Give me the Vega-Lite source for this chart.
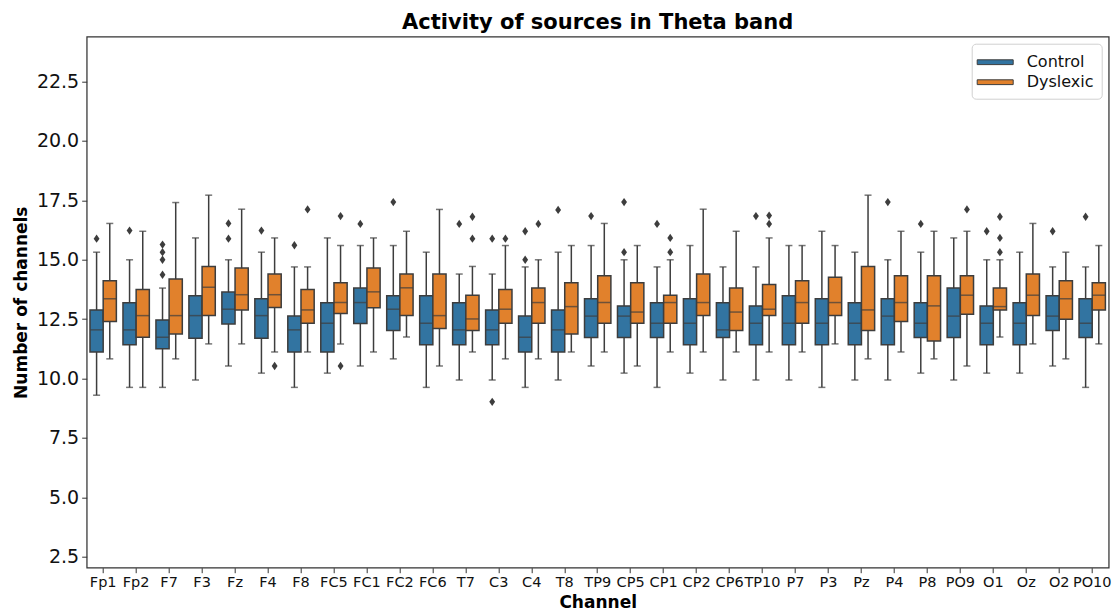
{
  "$schema": "https://vega.github.io/schema/vega-lite/v6.json",
  "width": 1022,
  "height": 531,
  "autosize": {"type": "none"},
  "padding": {"left": 86.7, "top": 36.7, "right": 7.3, "bottom": 44.3},
  "background": "white",
  "config": {
    "font": "DejaVu Sans",
    "view": {"stroke": "#333333", "strokeWidth": 1.25},
    "axis": {"grid": false, "domain": false, "tickColor": "#333333", "labelColor": "#111111", "titleColor": "#000000"}
  },
  "title": {"text": "Activity of sources in Theta band", "fontSize": 21, "fontWeight": "bold", "color": "#000000", "offset": 4, "font": "DejaVu Sans"},
  "datasets": {
    "boxes": [
      {"Channel": "Fp1", "Group": "Control", "lower": 9.30, "q1": 11.12, "median": 12.05, "q3": 12.89, "upper": 15.32},
      {"Channel": "Fp2", "Group": "Control", "lower": 9.63, "q1": 11.42, "median": 12.05, "q3": 13.19, "upper": 15.00},
      {"Channel": "F7", "Group": "Control", "lower": 9.63, "q1": 11.26, "median": 11.74, "q3": 12.47, "upper": 13.81},
      {"Channel": "F3", "Group": "Control", "lower": 9.94, "q1": 11.70, "median": 12.65, "q3": 13.49, "upper": 15.92},
      {"Channel": "Fz", "Group": "Control", "lower": 10.53, "q1": 12.30, "median": 12.92, "q3": 13.64, "upper": 15.00},
      {"Channel": "F4", "Group": "Control", "lower": 10.23, "q1": 11.70, "median": 12.65, "q3": 13.36, "upper": 15.32},
      {"Channel": "F8", "Group": "Control", "lower": 9.63, "q1": 11.12, "median": 12.05, "q3": 12.63, "upper": 14.70},
      {"Channel": "FC5", "Group": "Control", "lower": 10.23, "q1": 11.12, "median": 12.33, "q3": 13.19, "upper": 15.92},
      {"Channel": "FC1", "Group": "Control", "lower": 10.53, "q1": 12.32, "median": 13.20, "q3": 13.81, "upper": 15.60},
      {"Channel": "FC2", "Group": "Control", "lower": 10.83, "q1": 12.02, "median": 12.92, "q3": 13.49, "upper": 15.60},
      {"Channel": "FC6", "Group": "Control", "lower": 9.63, "q1": 11.42, "median": 12.33, "q3": 13.49, "upper": 15.32},
      {"Channel": "T7", "Group": "Control", "lower": 9.94, "q1": 11.42, "median": 12.05, "q3": 13.19, "upper": 14.40},
      {"Channel": "C3", "Group": "Control", "lower": 9.94, "q1": 11.42, "median": 12.05, "q3": 12.89, "upper": 14.40},
      {"Channel": "C4", "Group": "Control", "lower": 9.63, "q1": 11.12, "median": 11.74, "q3": 12.63, "upper": 14.70},
      {"Channel": "T8", "Group": "Control", "lower": 9.94, "q1": 11.12, "median": 12.05, "q3": 12.89, "upper": 15.32},
      {"Channel": "TP9", "Group": "Control", "lower": 10.53, "q1": 11.73, "median": 12.63, "q3": 13.36, "upper": 15.60},
      {"Channel": "CP5", "Group": "Control", "lower": 10.23, "q1": 11.73, "median": 12.63, "q3": 13.06, "upper": 15.00},
      {"Channel": "CP1", "Group": "Control", "lower": 9.63, "q1": 11.73, "median": 12.33, "q3": 13.19, "upper": 14.70},
      {"Channel": "CP2", "Group": "Control", "lower": 10.23, "q1": 11.42, "median": 12.33, "q3": 13.36, "upper": 15.60},
      {"Channel": "CP6", "Group": "Control", "lower": 9.94, "q1": 11.73, "median": 12.05, "q3": 13.19, "upper": 14.70},
      {"Channel": "TP10", "Group": "Control", "lower": 9.94, "q1": 11.42, "median": 12.33, "q3": 13.06, "upper": 14.70},
      {"Channel": "P7", "Group": "Control", "lower": 9.94, "q1": 11.42, "median": 12.33, "q3": 13.49, "upper": 15.60},
      {"Channel": "P3", "Group": "Control", "lower": 9.63, "q1": 11.42, "median": 12.33, "q3": 13.36, "upper": 16.20},
      {"Channel": "Pz", "Group": "Control", "lower": 9.94, "q1": 11.42, "median": 12.33, "q3": 13.19, "upper": 15.32},
      {"Channel": "P4", "Group": "Control", "lower": 9.94, "q1": 11.42, "median": 12.63, "q3": 13.36, "upper": 15.00},
      {"Channel": "P8", "Group": "Control", "lower": 10.23, "q1": 11.73, "median": 12.33, "q3": 13.19, "upper": 15.32},
      {"Channel": "PO9", "Group": "Control", "lower": 9.94, "q1": 11.73, "median": 12.63, "q3": 13.81, "upper": 15.92},
      {"Channel": "O1", "Group": "Control", "lower": 10.23, "q1": 11.42, "median": 12.33, "q3": 13.06, "upper": 15.00},
      {"Channel": "Oz", "Group": "Control", "lower": 10.23, "q1": 11.42, "median": 12.33, "q3": 13.19, "upper": 15.32},
      {"Channel": "O2", "Group": "Control", "lower": 10.53, "q1": 12.02, "median": 12.63, "q3": 13.49, "upper": 14.70},
      {"Channel": "PO10", "Group": "Control", "lower": 9.63, "q1": 11.73, "median": 12.33, "q3": 13.36, "upper": 14.70},
      {"Channel": "Fp1", "Group": "Dyslexic", "lower": 10.83, "q1": 12.40, "median": 13.36, "q3": 14.12, "upper": 16.53},
      {"Channel": "Fp2", "Group": "Dyslexic", "lower": 9.63, "q1": 11.74, "median": 12.65, "q3": 13.75, "upper": 16.20},
      {"Channel": "F7", "Group": "Dyslexic", "lower": 10.83, "q1": 11.88, "median": 12.65, "q3": 14.19, "upper": 17.41},
      {"Channel": "F3", "Group": "Dyslexic", "lower": 11.46, "q1": 12.65, "median": 13.84, "q3": 14.72, "upper": 17.72},
      {"Channel": "Fz", "Group": "Dyslexic", "lower": 11.46, "q1": 12.89, "median": 13.53, "q3": 14.65, "upper": 17.13},
      {"Channel": "F4", "Group": "Dyslexic", "lower": 11.12, "q1": 12.99, "median": 13.53, "q3": 14.40, "upper": 15.92},
      {"Channel": "F8", "Group": "Dyslexic", "lower": 11.12, "q1": 12.33, "median": 12.89, "q3": 13.75, "upper": 14.70},
      {"Channel": "FC5", "Group": "Dyslexic", "lower": 11.46, "q1": 12.74, "median": 13.20, "q3": 14.03, "upper": 15.60},
      {"Channel": "FC1", "Group": "Dyslexic", "lower": 11.12, "q1": 12.98, "median": 13.65, "q3": 14.65, "upper": 15.92},
      {"Channel": "FC2", "Group": "Dyslexic", "lower": 11.75, "q1": 12.65, "median": 13.82, "q3": 14.40, "upper": 16.20},
      {"Channel": "FC6", "Group": "Dyslexic", "lower": 10.53, "q1": 12.11, "median": 12.65, "q3": 14.40, "upper": 17.12},
      {"Channel": "T7", "Group": "Dyslexic", "lower": 11.12, "q1": 12.02, "median": 12.51, "q3": 13.51, "upper": 14.72},
      {"Channel": "C3", "Group": "Dyslexic", "lower": 10.83, "q1": 12.33, "median": 12.92, "q3": 13.75, "upper": 15.60},
      {"Channel": "C4", "Group": "Dyslexic", "lower": 10.83, "q1": 12.33, "median": 13.20, "q3": 13.81, "upper": 15.00},
      {"Channel": "T8", "Group": "Dyslexic", "lower": 11.12, "q1": 11.88, "median": 13.03, "q3": 14.03, "upper": 15.60},
      {"Channel": "TP9", "Group": "Dyslexic", "lower": 11.12, "q1": 12.33, "median": 13.20, "q3": 14.33, "upper": 16.53},
      {"Channel": "CP5", "Group": "Dyslexic", "lower": 10.53, "q1": 12.33, "median": 12.80, "q3": 14.03, "upper": 15.60},
      {"Channel": "CP1", "Group": "Dyslexic", "lower": 11.12, "q1": 12.33, "median": 13.20, "q3": 13.51, "upper": 15.00},
      {"Channel": "CP2", "Group": "Dyslexic", "lower": 11.12, "q1": 12.65, "median": 13.20, "q3": 14.40, "upper": 17.13},
      {"Channel": "CP6", "Group": "Dyslexic", "lower": 11.12, "q1": 12.02, "median": 12.80, "q3": 13.81, "upper": 16.20},
      {"Channel": "TP10", "Group": "Dyslexic", "lower": 11.12, "q1": 12.65, "median": 12.92, "q3": 13.96, "upper": 15.92},
      {"Channel": "P7", "Group": "Dyslexic", "lower": 11.12, "q1": 12.33, "median": 13.20, "q3": 14.12, "upper": 15.60},
      {"Channel": "P3", "Group": "Dyslexic", "lower": 11.46, "q1": 12.65, "median": 13.20, "q3": 14.26, "upper": 15.60},
      {"Channel": "Pz", "Group": "Dyslexic", "lower": 10.83, "q1": 12.02, "median": 12.89, "q3": 14.72, "upper": 17.72},
      {"Channel": "P4", "Group": "Dyslexic", "lower": 11.12, "q1": 12.40, "median": 13.20, "q3": 14.33, "upper": 16.20},
      {"Channel": "P8", "Group": "Dyslexic", "lower": 10.83, "q1": 11.58, "median": 13.06, "q3": 14.33, "upper": 16.20},
      {"Channel": "PO9", "Group": "Dyslexic", "lower": 10.53, "q1": 12.71, "median": 13.51, "q3": 14.33, "upper": 16.20},
      {"Channel": "O1", "Group": "Dyslexic", "lower": 11.75, "q1": 12.89, "median": 13.03, "q3": 13.81, "upper": 15.00},
      {"Channel": "Oz", "Group": "Dyslexic", "lower": 11.46, "q1": 12.65, "median": 13.51, "q3": 14.40, "upper": 16.53},
      {"Channel": "O2", "Group": "Dyslexic", "lower": 10.83, "q1": 12.50, "median": 13.36, "q3": 14.12, "upper": 15.32},
      {"Channel": "PO10", "Group": "Dyslexic", "lower": 11.46, "q1": 12.89, "median": 13.51, "q3": 14.03, "upper": 15.60}
    ],
    "outliers": [
      {"Channel": "Fp1", "Group": "Control", "value": 15.89},
      {"Channel": "Fp2", "Group": "Control", "value": 16.23},
      {"Channel": "F7", "Group": "Control", "value": 15.64},
      {"Channel": "F7", "Group": "Control", "value": 15.32},
      {"Channel": "F7", "Group": "Control", "value": 15.00},
      {"Channel": "F7", "Group": "Control", "value": 14.37},
      {"Channel": "Fz", "Group": "Control", "value": 16.53},
      {"Channel": "Fz", "Group": "Control", "value": 15.89},
      {"Channel": "F4", "Group": "Control", "value": 16.23},
      {"Channel": "F8", "Group": "Control", "value": 15.61},
      {"Channel": "FC1", "Group": "Control", "value": 16.51},
      {"Channel": "FC2", "Group": "Control", "value": 17.43},
      {"Channel": "T7", "Group": "Control", "value": 16.51},
      {"Channel": "C3", "Group": "Control", "value": 15.89},
      {"Channel": "C3", "Group": "Control", "value": 9.02},
      {"Channel": "C4", "Group": "Control", "value": 16.20},
      {"Channel": "C4", "Group": "Control", "value": 15.00},
      {"Channel": "T8", "Group": "Control", "value": 17.10},
      {"Channel": "TP9", "Group": "Control", "value": 16.84},
      {"Channel": "CP5", "Group": "Control", "value": 17.43},
      {"Channel": "CP5", "Group": "Control", "value": 15.32},
      {"Channel": "CP1", "Group": "Control", "value": 16.51},
      {"Channel": "TP10", "Group": "Control", "value": 16.84},
      {"Channel": "P4", "Group": "Control", "value": 17.43},
      {"Channel": "P8", "Group": "Control", "value": 16.51},
      {"Channel": "O1", "Group": "Control", "value": 16.20},
      {"Channel": "O2", "Group": "Control", "value": 16.20},
      {"Channel": "PO10", "Group": "Control", "value": 16.81},
      {"Channel": "F4", "Group": "Dyslexic", "value": 10.53},
      {"Channel": "F8", "Group": "Dyslexic", "value": 17.12},
      {"Channel": "FC5", "Group": "Dyslexic", "value": 16.84},
      {"Channel": "FC5", "Group": "Dyslexic", "value": 10.53},
      {"Channel": "T7", "Group": "Dyslexic", "value": 16.81},
      {"Channel": "T7", "Group": "Dyslexic", "value": 15.89},
      {"Channel": "C3", "Group": "Dyslexic", "value": 15.89},
      {"Channel": "C4", "Group": "Dyslexic", "value": 16.51},
      {"Channel": "CP1", "Group": "Dyslexic", "value": 15.92},
      {"Channel": "CP1", "Group": "Dyslexic", "value": 15.32},
      {"Channel": "TP10", "Group": "Dyslexic", "value": 16.86},
      {"Channel": "TP10", "Group": "Dyslexic", "value": 16.51},
      {"Channel": "PO9", "Group": "Dyslexic", "value": 17.12},
      {"Channel": "O1", "Group": "Dyslexic", "value": 16.81},
      {"Channel": "O1", "Group": "Dyslexic", "value": 15.92},
      {"Channel": "O1", "Group": "Dyslexic", "value": 15.32}
    ]
  },
  "encoding": {
    "x": {
      "field": "Channel",
      "type": "nominal",
      "scale": {
        "domain": ["Fp1", "Fp2", "F7", "F3", "Fz", "F4", "F8", "FC5", "FC1", "FC2", "FC6", "T7", "C3", "C4", "T8", "TP9", "CP5", "CP1", "CP2", "CP6", "TP10", "P7", "P3", "Pz", "P4", "P8", "PO9", "O1", "Oz", "O2", "PO10"],
        "paddingInner": 0.2,
        "paddingOuter": 0.1
      },
      "axis": {
        "title": "Channel",
        "labelAngle": 0,
        "labelFontSize": 14.5,
        "labelOverlap": false,
        "labelPadding": 3,
        "tickSize": 5,
        "titleFontSize": 17,
        "titleFontWeight": "bold",
        "titlePadding": 5
      }
    },
    "xOffset": {
      "field": "Group",
      "type": "nominal",
      "scale": {"domain": ["Control", "Dyslexic"], "paddingInner": 0, "paddingOuter": 0}
    }
  },
  "layer": [
    {
      "data": {"name": "boxes"},
      "mark": {"type": "rule", "color": "#3d3d3d", "strokeWidth": 1.5},
      "encoding": {
        "y": {
          "field": "lower",
          "type": "quantitative",
          "scale": {"domain": [2.04, 24.39], "nice": false, "zero": false},
          "axis": {
            "title": "Number of channels",
            "values": [2.5, 5, 7.5, 10, 12.5, 15, 17.5, 20, 22.5],
            "format": ".1f",
            "labelFontSize": 19,
            "labelPadding": 3,
            "tickSize": 5,
            "titleFontSize": 17,
            "titleFontWeight": "bold",
            "titlePadding": 6
          }
        },
        "y2": {"field": "upper"}
      }
    },
    {
      "data": {"name": "boxes"},
      "mark": {"type": "tick", "color": "#3d3d3d", "size": 7, "thickness": 1.5, "orient": "horizontal"},
      "encoding": {"y": {"field": "lower", "type": "quantitative"}}
    },
    {
      "data": {"name": "boxes"},
      "mark": {"type": "tick", "color": "#3d3d3d", "size": 7, "thickness": 1.5, "orient": "horizontal"},
      "encoding": {"y": {"field": "upper", "type": "quantitative"}}
    },
    {
      "data": {"name": "boxes"},
      "mark": {"type": "bar", "stroke": "#3d3d3d", "strokeWidth": 1.5, "opacity": 1},
      "encoding": {
        "y": {"field": "q1", "type": "quantitative"},
        "y2": {"field": "q3"},
        "color": {
          "field": "Group",
          "type": "nominal",
          "scale": {"domain": ["Control", "Dyslexic"], "range": ["#3274a1", "#e1812c"]},
          "legend": {
            "title": null,
            "orient": "top-right",
            "offset": 7,
            "padding": 8,
            "strokeColor": "#d0d0d0",
            "fillColor": "white",
            "cornerRadius": 4,
            "labelFontSize": 16,
            "labelColor": "#111111",
            "labelOffset": 21,
            "rowPadding": 1,
            "symbolOffset": 5,
            "symbolType": "M-1.8,-0.24H1.8V0.24H-1.8Z",
            "symbolSize": 400,
            "symbolStrokeColor": "#3d3d3d",
            "symbolStrokeWidth": 1,
            "symbolOpacity": 1
          }
        }
      }
    },
    {
      "data": {"name": "boxes"},
      "mark": {"type": "tick", "color": "#3d3d3d", "size": 13, "thickness": 1.5, "orient": "horizontal"},
      "encoding": {"y": {"field": "median", "type": "quantitative"}}
    },
    {
      "data": {"name": "outliers"},
      "mark": {"type": "point", "shape": "M0,-1L0.7,0L0,1L-0.7,0Z", "filled": true, "color": "#3d3d3d", "size": 70, "opacity": 1},
      "encoding": {"y": {"field": "value", "type": "quantitative"}}
    }
  ]
}
